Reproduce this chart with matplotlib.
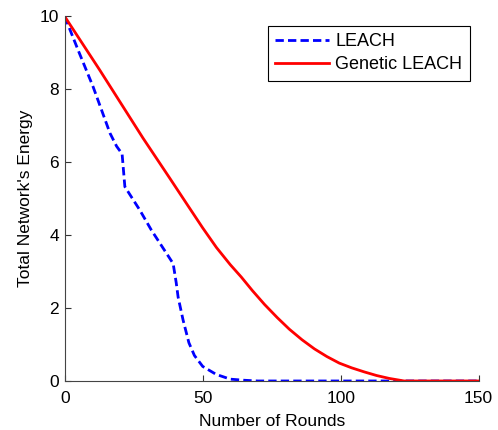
import numpy as np
import matplotlib
matplotlib.use('Agg')
import matplotlib.pyplot as plt

plt.rcParams['font.family'] = ['Liberation Sans', 'DejaVu Sans']

# LEACH (dashed blue)
leach_rounds = [0, 4.9, 10.3, 16.4, 18.8, 20.8, 21.8, 27.2, 31.4, 39.3, 40.4, 41.1,
                42.9, 45, 47, 50, 54.9, 60, 65, 70, 150]
leach_energy = [10, 9.07, 8.07, 6.8, 6.44, 6.23, 5.33, 4.69, 4.14, 3.22, 2.7, 2.3,
                1.67, 1.05, 0.7, 0.4, 0.18, 0.05, 0.02, 0, 0]

# Genetic LEACH (solid red)
gen_rounds = [0, 12.7, 28.4, 38.1, 45, 50, 55, 60, 64, 68, 72.4, 77, 81.4, 86,
              90.5, 95, 99.5, 104, 108.5, 113, 117.6, 123, 150]
gen_energy = [10, 8.53, 6.66, 5.56, 4.77, 4.2, 3.66, 3.19, 2.85, 2.48, 2.1, 1.74,
              1.42, 1.13, 0.88, 0.67, 0.49, 0.36, 0.25, 0.15, 0.07, 0, 0]

fig = plt.figure(figsize=(4.98, 4.30), dpi=100)
ax = fig.add_axes([0.1299, 0.114, 0.8313, 0.8477])

ax.plot(leach_rounds, leach_energy, color='#0000ff', lw=2, linestyle='--',
        dashes=(3, 1.5), label='LEACH')
ax.plot(gen_rounds, gen_energy, color='#ff0000', lw=2, label='Genetic LEACH')

ax.set_xlim(0, 150)
ax.set_ylim(0, 10)
ax.set_xticks([0, 50, 100, 150])
ax.set_yticks([0, 2, 4, 6, 8, 10])
ax.tick_params(direction='in', length=4, labelsize=12.5, colors='#333333',
               labelcolor='black')
ax.tick_params(axis='x', pad=7)
ax.tick_params(axis='y', pad=4)
for s in ['top', 'right']:
    ax.spines[s].set_visible(False)
for s in ['left', 'bottom']:
    ax.spines[s].set_color('#444444')

ax.set_xlabel('Number of Rounds', fontsize=12.5, labelpad=6)
ax.set_ylabel("Total Network's Energy", fontsize=12.5, labelpad=5)

leg = ax.legend(loc='upper right', bbox_to_anchor=(0.978, 0.974), fontsize=13,
                fancybox=False, framealpha=1, edgecolor='black',
                handlelength=3.0, handletextpad=0.35, borderpad=0.4,
                labelspacing=0.35, borderaxespad=0)
leg.get_frame().set_linewidth(0.8)

fig.savefig('out.png', dpi=100)
